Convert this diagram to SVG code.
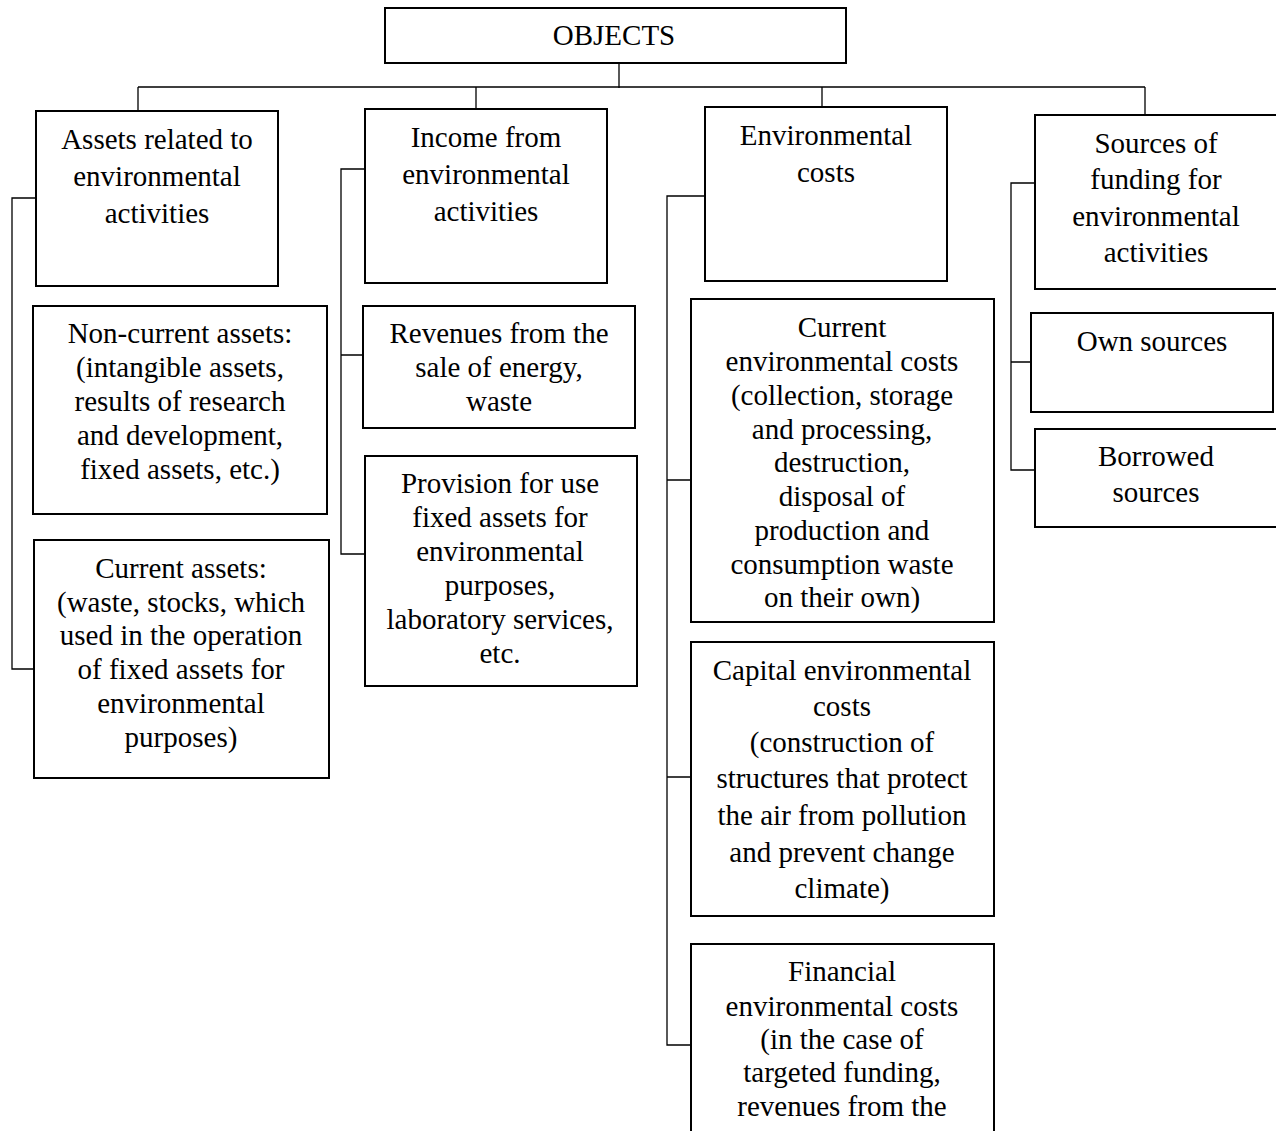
<svg xmlns="http://www.w3.org/2000/svg" width="1276" height="1131" viewBox="0 0 1276 1131">
<style>
.box{fill:#fff;stroke:#000;stroke-width:2}
.ln{fill:none;stroke:#000;stroke-width:1.3}
text{font-family:"Liberation Serif","Times New Roman",serif;font-size:29px;fill:#000;text-anchor:middle}
</style>
<rect width="1276" height="1131" fill="#fff"/>
<g id="connectors">
<path class="ln" d="M619 63V88M138 87H1145M138 87V111M476 87V109M822 87V107M1145 87V115"/>
<path class="ln" d="M36 198H12V669H34"/>
<path class="ln" d="M365 169H341V554H365M341 355H363"/>
<path class="ln" d="M705 196H667V1045H691M667 480H691M667 777H691"/>
<path class="ln" d="M1035 183H1011V470H1035M1011 362H1031"/>
</g>
<g id="objects"><rect class="box" x="385" y="8" width="461" height="55"/><text x="614" y="45">OBJECTS</text></g>
<g id="assets"><rect class="box" x="36" y="111" width="242" height="175"/><text x="157" y="149">Assets related to</text><text x="157" y="186">environmental</text><text x="157" y="223">activities</text></g>
<g id="noncurrent"><rect class="box" x="33" y="306" width="294" height="208"/><text x="180" y="343">Non-current assets:</text><text x="180" y="377">(intangible assets,</text><text x="180" y="411">results of research</text><text x="180" y="445">and development,</text><text x="180" y="479">fixed assets, etc.)</text></g>
<g id="currentassets"><rect class="box" x="34" y="540" width="295" height="238"/><text x="181" y="578">Current assets:</text><text x="181" y="612">(waste, stocks, which</text><text x="181" y="645">used in the operation</text><text x="181" y="679">of fixed assets for</text><text x="181" y="713">environmental</text><text x="181" y="747">purposes)</text></g>
<g id="income"><rect class="box" x="365" y="109" width="242" height="174"/><text x="486" y="147">Income from</text><text x="486" y="184">environmental</text><text x="486" y="221">activities</text></g>
<g id="revenues"><rect class="box" x="363" y="306" width="272" height="122"/><text x="499" y="343">Revenues from the</text><text x="499" y="377">sale of energy,</text><text x="499" y="411">waste</text></g>
<g id="provision"><rect class="box" x="365" y="456" width="272" height="230"/><text x="500" y="493">Provision for use</text><text x="500" y="527">fixed assets for</text><text x="500" y="561">environmental</text><text x="500" y="595">purposes,</text><text x="500" y="629">laboratory services,</text><text x="500" y="663">etc.</text></g>
<g id="envcosts"><rect class="box" x="705" y="107" width="242" height="174"/><text x="826" y="145">Environmental</text><text x="826" y="182">costs</text></g>
<g id="currentcosts"><rect class="box" x="691" y="299" width="303" height="323"/><text x="842" y="337">Current</text><text x="842" y="371">environmental costs</text><text x="842" y="405">(collection, storage</text><text x="842" y="439">and processing,</text><text x="842" y="472">destruction,</text><text x="842" y="506">disposal of</text><text x="842" y="540">production and</text><text x="842" y="574">consumption waste</text><text x="842" y="607">on their own)</text></g>
<g id="capitalcosts"><rect class="box" x="691" y="642" width="303" height="274"/><text x="842" y="680">Capital environmental</text><text x="842" y="716">costs</text><text x="842" y="752">(construction of</text><text x="842" y="788">structures that protect</text><text x="842" y="825">the air from pollution</text><text x="842" y="862">and prevent change</text><text x="842" y="898">climate)</text></g>
<g id="financialcosts"><rect class="box" x="691" y="944" width="303" height="200"/><text x="842" y="981">Financial</text><text x="842" y="1016">environmental costs</text><text x="842" y="1049">(in the case of</text><text x="842" y="1082">targeted funding,</text><text x="842" y="1116">revenues from the</text></g>
<g id="sources"><rect class="box" x="1035" y="115" width="250" height="174"/><text x="1156" y="153">Sources of</text><text x="1156" y="189">funding for</text><text x="1156" y="226">environmental</text><text x="1156" y="262">activities</text></g>
<g id="own"><rect class="box" x="1031" y="313" width="242" height="99"/><text x="1152" y="351">Own sources</text></g>
<g id="borrowed"><rect class="box" x="1035" y="429" width="250" height="98"/><text x="1156" y="466">Borrowed</text><text x="1156" y="502">sources</text></g>
</svg>
